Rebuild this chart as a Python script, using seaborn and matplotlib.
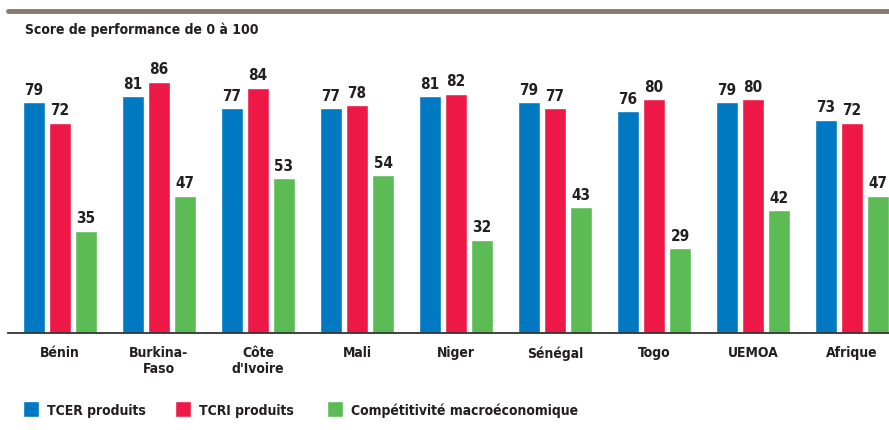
import matplotlib
matplotlib.use("Agg")
import matplotlib.pyplot as plt
import pandas as pd
import seaborn as sns

pays = ["Bénin", "Burkina-\nFaso", "Côte\nd'Ivoire", "Mali", "Niger",
        "Sénégal", "Togo", "UEMOA", "Afrique"]
tcer = [79, 81, 77, 77, 81, 79, 76, 79, 73]
tcri = [72, 86, 84, 78, 82, 77, 80, 80, 72]
macro = [35, 47, 53, 54, 32, 43, 29, 42, 47]
series = ["TCER produits", "TCRI produits", "Compétitivité macroéconomique"]
couleurs = ["#0079C2", "#EE1846", "#5CBB55"]

df = pd.DataFrame({"pays": pays * 3,
                   "serie": [series[0]] * 9 + [series[1]] * 9 + [series[2]] * 9,
                   "score": tcer + tcri + macro})

sns.set_style("white")
plt.rcParams["font.family"] = ["DejaVu Sans"]
plt.rcParams["font.stretch"] = "condensed"
txt = "#231F20"

fig = plt.figure(figsize=(8.89, 4.31), dpi=100)
ax = fig.add_axes([8 / 889, 97 / 431, 1 - 8 / 889, (334 - 42) / 431])

sns.barplot(data=df, x="pays", y="score", hue="serie", palette=couleurs,
            width=0.79, gap=0.15, ax=ax, saturation=1)

for c in ax.containers:
    ax.bar_label(c, padding=4, fontsize=11, fontweight="bold", color=txt)

ax.set_xlim(-0.525, 8.374)
ax.set_ylim(0, 100)
ax.set_xlabel("")
ax.set_ylabel("")
ax.set_yticks([])
ax.tick_params(axis="x", length=0, pad=9)
for lab in ax.get_xticklabels():
    lab.set_fontsize(10)
    lab.set_fontweight("bold")
    lab.set_color(txt)
    lab.set_linespacing(1.1)
for s in ["top", "right", "left"]:
    ax.spines[s].set_visible(False)
ax.spines["bottom"].set_color("#333333")
ax.spines["bottom"].set_linewidth(1.3)

# bandeau gris en haut et titre
fig.add_artist(plt.Line2D([8 / 889, 1], [1 - 12 / 431, 1 - 12 / 431],
                          color="#857A70", linewidth=3.5))
fig.text(25 / 889, 1 - 30 / 431, "Score de performance de 0 à 100",
         fontsize=10, fontweight="bold", color=txt, va="center")

# légende : une entrée par bloc, espacées régulièrement
handles, labels = ax.get_legend_handles_labels()
ax.get_legend().remove()
for i, (h, l) in enumerate(zip(handles, labels)):
    leg = fig.legend([h], [l], loc="center left",
                     bbox_to_anchor=((23 + 152 * i) / 889, 21 / 431),
                     frameon=False, fontsize=10, handlelength=1.15,
                     handleheight=1.5, handletextpad=0.55, borderaxespad=0,
                     borderpad=0)
    for t in leg.get_texts():
        t.set_fontweight("bold")
        t.set_color(txt)

fig.savefig("out.png", dpi=100)
